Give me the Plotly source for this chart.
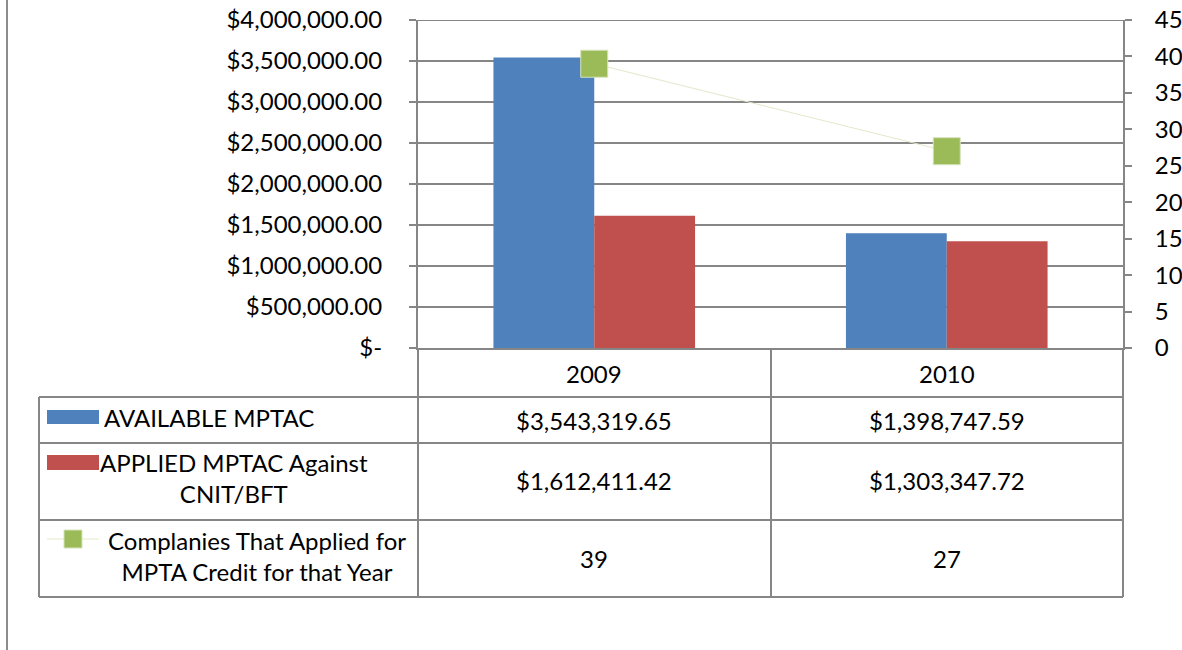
import plotly.graph_objects as go

# ---- data ----
categories = ["2009", "2010"]
available = [3543319.65, 1398747.59]
applied = [1612411.42, 1303347.72]
companies = [39, 27]

series_names = [
    "AVAILABLE MPTAC",
    "APPLIED MPTAC Against<br>CNIT/BFT",
    "Complanies That Applied for<br>MPTA Credit for that Year",
]

left_tickvals = [0, 500000, 1000000, 1500000, 2000000, 2500000, 3000000, 3500000, 4000000]
left_ticktext = ["$-", "$500,000.00", "$1,000,000.00", "$1,500,000.00", "$2,000,000.00",
                 "$2,500,000.00", "$3,000,000.00", "$3,500,000.00", "$4,000,000.00"]
right_tickvals = [0, 5, 10, 15, 20, 25, 30, 35, 40, 45]

# ---- style ----
BLUE = "#4F81BD"
RED = "#C0504D"
GREEN = "#9BBB59"
GRID = "#868686"
FONT = "Lato"
FS = 24
LW = 2

W, H = 1182, 650
L, R, T, B = 418, 1123, 20, 348  # plot area pixel box


def px(xp):
    return (xp - L) / (R - L)


def py(yp):
    return (B - yp) / (B - T)


fig = go.Figure()
fig.add_trace(go.Bar(x=categories, y=available, name="AVAILABLE MPTAC",
                     marker=dict(color=BLUE, line=dict(width=0)), yaxis="y"))
fig.add_trace(go.Bar(x=categories, y=applied, name="APPLIED MPTAC Against CNIT/BFT",
                     marker=dict(color=RED, line=dict(width=0)), yaxis="y"))
fig.add_trace(go.Scatter(x=categories, y=companies, yaxis="y2", mode="lines+markers",
                         line=dict(color="#E4E8C8", width=1),
                         marker=dict(symbol="square", size=27, color=GREEN,
                                     line=dict(color="#D6E3BC", width=1)),
                         name="Companies"))

shapes = []
line_style = dict(color=GRID, width=LW)
# top gridline (at the top of the value range)
shapes.append(dict(type="line", xref="paper", yref="y", x0=0, x1=1,
                   y0=left_tickvals[-1], y1=left_tickvals[-1], line=line_style, layer="below"))
# chart border at far left
shapes.append(dict(type="line", xref="paper", yref="paper", x0=px(7), x1=px(7),
                   y0=py(-5), y1=py(655), line=dict(color="#8C8C8C", width=2)))
# table horizontal lines
for yy in [397, 443, 520, 597]:
    shapes.append(dict(type="line", xref="paper", yref="paper", x0=px(39), x1=px(1123),
                       y0=py(yy), y1=py(yy), line=line_style))
# table vertical lines
shapes.append(dict(type="line", xref="paper", yref="paper", x0=px(39), x1=px(39),
                   y0=py(397), y1=py(597), line=line_style))
for xx in [418, 771, 1123]:
    shapes.append(dict(type="line", xref="paper", yref="paper", x0=px(xx), x1=px(xx),
                       y0=py(348), y1=py(597), line=line_style))
# legend keys
shapes.append(dict(type="rect", xref="paper", yref="paper", x0=px(47), x1=px(99),
                   y0=py(410), y1=py(424), fillcolor=BLUE, line=dict(width=0)))
shapes.append(dict(type="rect", xref="paper", yref="paper", x0=px(47), x1=px(99),
                   y0=py(455), y1=py(470), fillcolor=RED, line=dict(width=0)))
shapes.append(dict(type="line", xref="paper", yref="paper", x0=px(47), x1=px(99),
                   y0=py(539), y1=py(539), line=dict(color="#E4E8C8", width=1)))
shapes.append(dict(type="rect", xref="paper", yref="paper", x0=px(64), x1=px(82),
                   y0=py(530), y1=py(548), fillcolor=GREEN, line=dict(color="#D6E3BC", width=1)))

annotations = []
font = dict(family=FONT, size=FS, color="black")
ncat = len(categories)
cat_x = [(i + 0.5) / ncat for i in range(ncat)]  # category centres on the x axis (paper units)
# header row categories
for cx, c in zip(cat_x, categories):
    annotations.append(dict(x=cx, y=py(373), xref="paper", yref="paper", text=c,
                            showarrow=False, font=font, xanchor="center", yanchor="middle"))
# values
row_y = [420, 480, 558]
rows = [[f"${v:,.2f}" for v in available],
        [f"${v:,.2f}" for v in applied],
        [f"{v}" for v in companies]]
for ry, vals in zip(row_y, rows):
    for cx, t in zip(cat_x, vals):
        annotations.append(dict(x=cx, y=py(ry), xref="paper", yref="paper", text=t,
                                showarrow=False, font=font, xanchor="center", yanchor="middle"))
# series names
annotations.append(dict(x=px(102), y=py(417), xref="paper", yref="paper", text=series_names[0],
                        showarrow=False, font=font, xanchor="left", yanchor="middle"))
annotations.append(dict(x=px(234), y=py(478), xref="paper", yref="paper", text=series_names[1],
                        showarrow=False, font=font, xanchor="center", yanchor="middle", align="center"))
annotations.append(dict(x=px(257), y=py(556), xref="paper", yref="paper", text=series_names[2],
                        showarrow=False, font=font, xanchor="center", yanchor="middle", align="center"))

fig.update_layout(
    width=W, height=H, autosize=False,
    margin=dict(l=L, r=W - R, t=T, b=H - B, pad=0, autoexpand=False),
    paper_bgcolor="white", plot_bgcolor="white",
    showlegend=False, hovermode=False,
    barmode="group", bargap=0.428, bargroupgap=0,
    font=dict(family=FONT, size=FS, color="black"),
    xaxis=dict(type="category", range=[-0.5, 1.5], showticklabels=False, ticks="",
               showline=True, linecolor=GRID, linewidth=LW, showgrid=False, zeroline=False,
               automargin=False),
    yaxis=dict(range=[0, 4000000], tickvals=left_tickvals, ticktext=left_ticktext,
               showgrid=True, gridcolor=GRID, gridwidth=LW, showline=True, linecolor=GRID,
               linewidth=LW, ticks="outside", ticklen=7, tickcolor=GRID, tickwidth=LW,
               zeroline=False, ticklabelstandoff=22, tickfont=font, automargin=False),
    yaxis2=dict(range=[0, 45], tickvals=right_tickvals, overlaying="y", side="right",
                showgrid=False, showline=True, linecolor=GRID, linewidth=LW,
                ticks="outside", ticklen=7, tickcolor=GRID, tickwidth=LW, zeroline=False,
                ticklabelstandoff=18, tickfont=font, automargin=False),
    shapes=shapes, annotations=annotations,
)

fig.write_html("out.html", config={"displayModeBar": False},
               post_script="document.body.style.margin='0';")
